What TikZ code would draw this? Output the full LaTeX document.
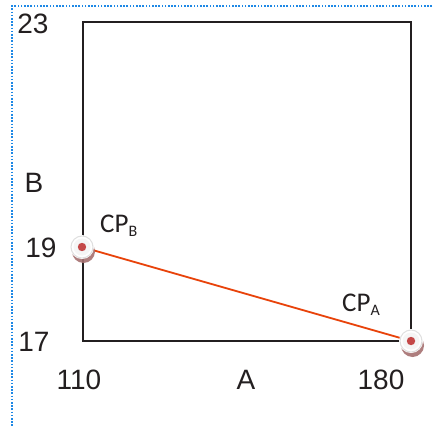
\documentclass[tikz,border=0pt]{standalone}
\usepackage{fontspec}
\setmainfont{Liberation Sans}
\newfontfamily\cpfont{Carlito}
\definecolor{ink}{RGB}{35,31,32}
\definecolor{dotblue}{RGB}{30,136,229}
\definecolor{segred}{RGB}{232,66,10}
\definecolor{ptshadow}{RGB}{165,112,112}
\definecolor{ptdot}{RGB}{196,72,72}
\begin{document}
\begin{tikzpicture}[x=1pt,y=-1pt,
  lbl/.style={font=\fontsize{28}{30}\selectfont, text=ink, inner sep=0pt, anchor=center},
  cplbl/.style={font=\cpfont\fontsize{27}{29}\selectfont, text=ink, inner sep=0pt, anchor=base west},
  frame/.style={draw=ink, line width=2.6pt},
  seg/.style={draw=segred, line width=1.8pt},
  border/.style={draw=dotblue, line width=2pt, dash pattern=on 1.6pt off 1.6pt}]
\useasboundingbox (0,0) rectangle (435,427);
% dotted border
\draw[border] (432,6) -- (12,6) -- (12,427);
% square
\draw[frame] (83,22) rectangle (411,341);
% points
\coordinate (PB) at (82,247);
\coordinate (PA) at (411,341);
\draw[seg] (PB) -- (PA);
\foreach \p in {PB,PA}{
  \fill[ptshadow, opacity=0.9] ([shift={(1.5,4.5)}]\p) circle (11.5);
  \fill[white] (\p) circle (12);
  \draw[gray!25, line width=1pt] (\p) circle (11);
  \fill[white!92!gray] (\p) circle (8.5);
  \fill[ptdot] (\p) circle (4.2);
}
% labels
\node[lbl] (l23) at (33,24) {23};
\node[lbl] (lB) at (34,183) {B};
\node[lbl] (l19) at (41,248) {19};
\node[lbl] (l17) at (34,342) {17};
\node[lbl] (l110) at (79,380) {110};
\node[lbl] (lA) at (246,380) {A};
\node[lbl] (l180) at (381,380) {180};
\node[cplbl] (cpb) at (100,232) {CP\raisebox{-4pt}{\fontsize{16}{17}\selectfont B}};
\node[cplbl] (cpa) at (342,311) {CP\raisebox{-4pt}{\fontsize{16}{17}\selectfont A}};
\end{tikzpicture}
\end{document}
